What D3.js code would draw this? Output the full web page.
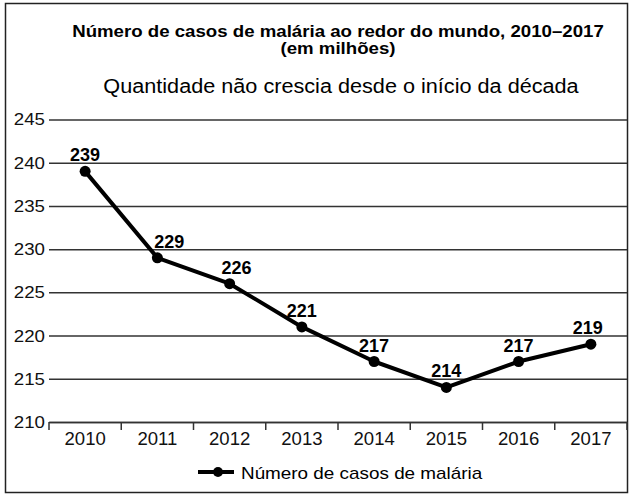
<!DOCTYPE html>
<html>
<head>
<meta charset="utf-8">
<script src="https://cdn.jsdelivr.net/npm/d3@7"></script>
<style>
  body { margin: 0; background: #fff; }
  svg { display: block; font-family: "Liberation Sans", Arial, sans-serif; }
</style>
</head>
<body>
<svg width="629" height="495"></svg>
<script>
// données
const anos = ['2010', '2011', '2012', '2013', '2014', '2015', '2016', '2017'];
const casos = [239, 229, 226, 221, 217, 214, 217, 219];
const ticks_y = [210, 215, 220, 225, 230, 235, 240, 245];

const svg = d3.select('svg');
const police = '"Liberation Sans", Arial, sans-serif';
// décalage horizontal des étiquettes (pour éviter la courbe)
const decalage = [0, 12, 7, 0, 0, 0, 0, -3];

// élargir un peu le texte (la police d'origine est plus large qu'Arial)
function elargir(sel, k) {
    sel.each(function () {
        const w = this.getComputedTextLength();
        d3.select(this).attr('textLength', w * k).attr('lengthAdjust', 'spacingAndGlyphs');
    });
}

// cadre extérieur
svg.append('rect')
    .attr('x', 5.5).attr('y', 3.5)
    .attr('width', 622).attr('height', 489)
    .attr('fill', 'none').attr('stroke', '#222').attr('stroke-width', 1.5);

// titres
const t1 = svg.append('text')
    .attr('x', 338).attr('y', 37)
    .attr('text-anchor', 'middle')
    .attr('font-weight', 'bold').attr('font-size', 16.5)
    .text('Número de casos de malária ao redor do mundo, 2010–2017');
const t2 = svg.append('text')
    .attr('x', 338).attr('y', 54)
    .attr('text-anchor', 'middle')
    .attr('font-weight', 'bold').attr('font-size', 16.5)
    .text('(em milhões)');
const t3 = svg.append('text')
    .attr('x', 341).attr('y', 93)
    .attr('text-anchor', 'middle')
    .attr('font-size', 19.5)
    .text('Quantidade não crescia desde o início da década');
elargir(t1, 1.13);
elargir(t2, 1.13);
elargir(t3, 1.11);

// échelles
const x = d3.scaleBand().domain(anos).range([49, 627]);
const y = d3.scaleLinear().domain([210, 245]).range([422, 119.5]);

// lignes horizontales + axe y
const axeY = svg.append('g')
    .attr('transform', 'translate(49,0)')
    .call(d3.axisLeft(y).tickValues(ticks_y).tickSize(-578).tickSizeOuter(0).tickPadding(4));
axeY.select('.domain').remove();
axeY.selectAll('.tick line').attr('stroke', '#333').attr('stroke-width', 1.5);
axeY.selectAll('.tick text')
    .attr('font-size', 17).attr('fill', '#111')
    .attr('font-family', police);
elargir(axeY.selectAll('.tick text'), 1.1);

// axe x
const axeX = svg.append('g')
    .attr('transform', 'translate(0,422)')
    .call(d3.axisBottom(x).tickSize(0).tickPadding(11));
axeX.select('.domain').attr('stroke', '#333').attr('stroke-width', 1.5);
axeX.selectAll('.tick text')
    .attr('font-size', 17.5).attr('fill', '#111')
    .attr('font-family', police);
elargir(axeX.selectAll('.tick text'), 1.06);
// petits traits entre les catégories
const bords = anos.map(a => x(a)).concat([x.range()[1]]);
svg.append('g').selectAll('line')
    .data(bords)
    .join('line')
    .attr('x1', d => d).attr('x2', d => d)
    .attr('y1', 422).attr('y2', 430)
    .attr('stroke', '#333').attr('stroke-width', 1.5);

// courbe
const cx = (d, i) => x(anos[i]) + x.bandwidth() / 2;
const ligne = d3.line()
    .x(cx)
    .y(d => y(d));
svg.append('path')
    .datum(casos)
    .attr('d', ligne)
    .attr('fill', 'none')
    .attr('stroke', '#000')
    .attr('stroke-width', 4)
    .attr('stroke-linejoin', 'round');
svg.append('g').selectAll('circle')
    .data(casos)
    .join('circle')
    .attr('cx', cx)
    .attr('cy', d => y(d))
    .attr('r', 5.5)
    .attr('fill', '#000');

// étiquettes de valeur
svg.append('g').selectAll('text')
    .data(casos)
    .join('text')
    .attr('x', (d, i) => cx(d, i) + decalage[i])
    .attr('y', d => y(d) - 10)
    .attr('text-anchor', 'middle')
    .attr('font-weight', 'bold')
    .attr('font-size', 18)
    .text(d => d);

// légende
const leg = svg.append('g');
leg.append('line')
    .attr('x1', 198).attr('x2', 234).attr('y1', 472).attr('y2', 472)
    .attr('stroke', '#000').attr('stroke-width', 4);
leg.append('circle')
    .attr('cx', 218).attr('cy', 472).attr('r', 5).attr('fill', '#000');
const tl = leg.append('text')
    .attr('x', 241).attr('y', 479)
    .attr('font-size', 17)
    .text('Número de casos de malária');
elargir(tl, 1.11);
</script>
</body>
</html>
